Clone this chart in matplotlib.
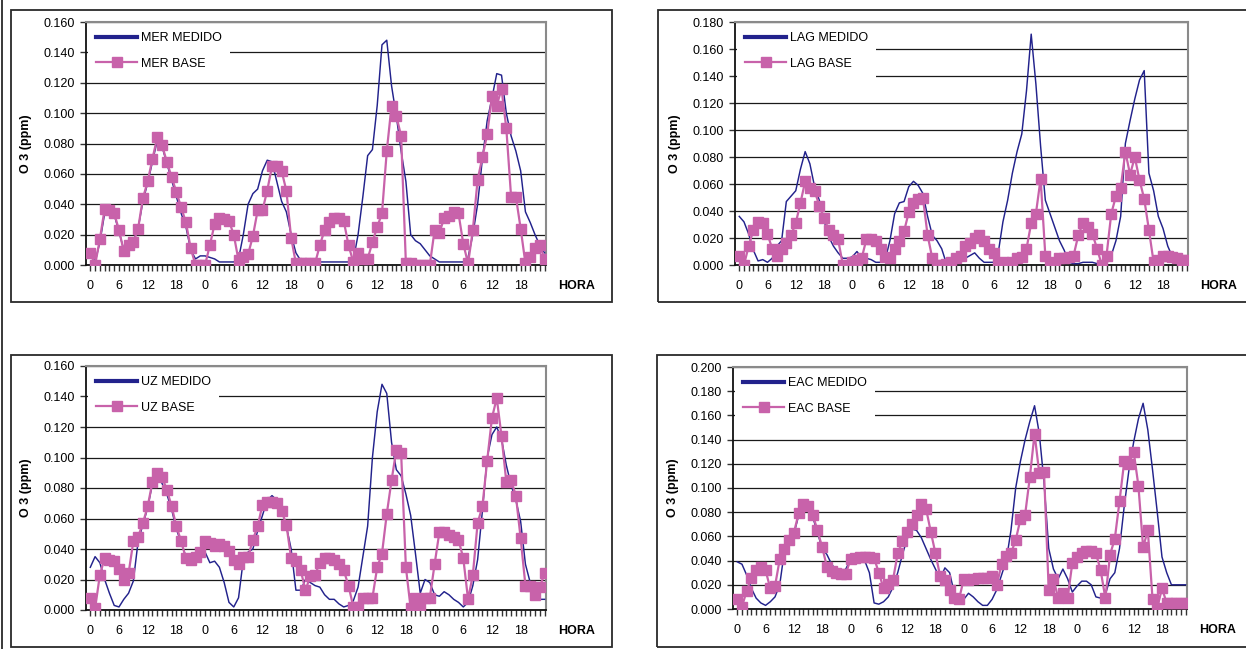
import matplotlib
matplotlib.use("Agg")
import matplotlib.pyplot as plt
from matplotlib.patches import Rectangle
from matplotlib.lines import Line2D

plt.rcParams['font.family'] = ['Liberation Sans', 'DejaVu Sans']

# ---------------- data ----------------
hours = list(range(96))
hour_labels = ["0", "6", "12", "18"] * 4
x_title = "HORA"
y_title = "O 3 (ppm)"

mer_medido = [0.008, 0.002, 0.015, 0.034, 0.035, 0.033, 0.022, 0.010, 0.013, 0.016, 0.024, 0.042,
              0.054, 0.068, 0.082, 0.078, 0.067, 0.056, 0.045, 0.034, 0.025, 0.010, 0.004, 0.006,
              0.006, 0.005, 0.004, 0.002, 0.002, 0.002, 0.002, 0.004, 0.020, 0.040, 0.047, 0.050,
              0.062, 0.069, 0.068, 0.055, 0.042, 0.035, 0.020, 0.008, 0.003, 0.002, 0.002, 0.002,
              0.002, 0.002, 0.002, 0.002, 0.002, 0.002, 0.002, 0.003, 0.020, 0.045, 0.072, 0.076,
              0.105, 0.145, 0.148, 0.118, 0.098, 0.075, 0.055, 0.020, 0.016, 0.014, 0.010, 0.006,
              0.004, 0.002, 0.002, 0.002, 0.002, 0.002, 0.002, 0.005, 0.020, 0.040, 0.070, 0.095,
              0.110, 0.126, 0.125, 0.100, 0.085, 0.075, 0.062, 0.035, 0.028, 0.020, 0.013, 0.008]
mer_base = [0.008, 0.000, 0.017, 0.037, 0.036, 0.034, 0.023, 0.009, 0.013, 0.015, 0.024, 0.044,
            0.055, 0.070, 0.084, 0.079, 0.068, 0.058, 0.048, 0.038, 0.028, 0.011, 0.000, 0.000,
            0.000, 0.013, 0.027, 0.031, 0.030, 0.029, 0.020, 0.003, 0.005, 0.007, 0.019, 0.036,
            0.036, 0.049, 0.065, 0.065, 0.062, 0.049, 0.018, 0.001, 0.001, 0.001, 0.001, 0.001,
            0.013, 0.023, 0.028, 0.031, 0.031, 0.029, 0.013, 0.002, 0.008, 0.004, 0.004, 0.015,
            0.025, 0.034, 0.075, 0.105, 0.098, 0.085, 0.001, 0.001, 0.000, 0.000, 0.000, 0.000,
            0.023, 0.021, 0.031, 0.032, 0.035, 0.034, 0.014, 0.001, 0.023, 0.056, 0.071, 0.086,
            0.111, 0.105, 0.116, 0.090, 0.045, 0.045, 0.024, 0.001, 0.005, 0.011, 0.013, 0.004]

lag_medido = [0.036, 0.032, 0.023, 0.011, 0.003, 0.004, 0.002, 0.005, 0.014, 0.018, 0.047, 0.051,
              0.055, 0.071, 0.084, 0.075, 0.058, 0.048, 0.033, 0.021, 0.014, 0.009, 0.005, 0.005,
              0.006, 0.010, 0.005, 0.005, 0.004, 0.002, 0.002, 0.004, 0.018, 0.038, 0.046, 0.047,
              0.058, 0.062, 0.059, 0.053, 0.036, 0.022, 0.018, 0.012, 0.001, 0.001, 0.001, 0.002,
              0.005, 0.007, 0.009, 0.005, 0.002, 0.002, 0.002, 0.009, 0.032, 0.048, 0.068, 0.084,
              0.097, 0.129, 0.171, 0.134, 0.088, 0.048, 0.038, 0.028, 0.018, 0.011, 0.002, 0.001,
              0.001, 0.002, 0.002, 0.002, 0.001, 0.000, 0.001, 0.007, 0.018, 0.036, 0.090, 0.107,
              0.123, 0.137, 0.144, 0.068, 0.055, 0.036, 0.027, 0.014, 0.006, 0.002, 0.001, 0.001]
lag_base = [0.007, 0.000, 0.014, 0.026, 0.032, 0.031, 0.023, 0.012, 0.007, 0.012, 0.016, 0.022,
            0.031, 0.046, 0.062, 0.057, 0.055, 0.044, 0.035, 0.026, 0.022, 0.019, 0.000, 0.000,
            0.002, 0.004, 0.005, 0.019, 0.019, 0.018, 0.012, 0.006, 0.005, 0.012, 0.018, 0.025,
            0.039, 0.046, 0.049, 0.050, 0.022, 0.005, 0.000, 0.000, 0.001, 0.002, 0.005, 0.007,
            0.014, 0.016, 0.020, 0.022, 0.018, 0.012, 0.009, 0.001, 0.002, 0.001, 0.002, 0.005,
            0.006, 0.012, 0.031, 0.038, 0.064, 0.007, 0.002, 0.001, 0.005, 0.005, 0.006, 0.007,
            0.022, 0.031, 0.028, 0.023, 0.012, 0.000, 0.007, 0.038, 0.051, 0.057, 0.084, 0.067,
            0.080, 0.063, 0.049, 0.026, 0.002, 0.004, 0.007, 0.007, 0.006, 0.005, 0.004, 0.004]

uz_medido = [0.028, 0.035, 0.031, 0.020, 0.011, 0.003, 0.002, 0.007, 0.011, 0.019, 0.045, 0.056,
             0.067, 0.083, 0.088, 0.083, 0.076, 0.066, 0.053, 0.044, 0.035, 0.034, 0.035, 0.038,
             0.038, 0.031, 0.032, 0.028, 0.018, 0.005, 0.002, 0.008, 0.033, 0.038, 0.040, 0.052,
             0.062, 0.072, 0.075, 0.072, 0.066, 0.055, 0.040, 0.013, 0.013, 0.020, 0.018, 0.016,
             0.015, 0.010, 0.007, 0.007, 0.004, 0.002, 0.003, 0.006, 0.015, 0.035, 0.055, 0.100,
             0.130, 0.148, 0.142, 0.110, 0.092, 0.088, 0.076, 0.062, 0.037, 0.011, 0.020, 0.018,
             0.010, 0.009, 0.012, 0.010, 0.007, 0.005, 0.002, 0.005, 0.016, 0.033, 0.065, 0.100,
             0.115, 0.120, 0.112, 0.095, 0.082, 0.072, 0.058, 0.030, 0.018, 0.010, 0.007, 0.007]
uz_base = [0.008, 0.001, 0.023, 0.034, 0.033, 0.032, 0.027, 0.020, 0.024, 0.045, 0.048, 0.057,
           0.068, 0.084, 0.090, 0.087, 0.079, 0.068, 0.055, 0.045, 0.034, 0.033, 0.035, 0.038,
           0.045, 0.044, 0.042, 0.043, 0.042, 0.039, 0.033, 0.030, 0.035, 0.035, 0.046, 0.055,
           0.069, 0.071, 0.071, 0.070, 0.065, 0.056, 0.034, 0.032, 0.026, 0.013, 0.022, 0.023,
           0.031, 0.034, 0.034, 0.033, 0.030, 0.026, 0.016, 0.002, 0.002, 0.008, 0.008, 0.008,
           0.028, 0.037, 0.063, 0.085, 0.105, 0.103, 0.028, 0.001, 0.008, 0.002, 0.008, 0.008,
           0.030, 0.051, 0.051, 0.049, 0.048, 0.046, 0.034, 0.007, 0.023, 0.057, 0.068, 0.098,
           0.126, 0.139, 0.114, 0.084, 0.085, 0.075, 0.047, 0.016, 0.016, 0.010, 0.015, 0.024]

eac_medido = [0.039, 0.037, 0.028, 0.017, 0.009, 0.005, 0.003, 0.006, 0.010, 0.020, 0.048, 0.055,
              0.062, 0.077, 0.085, 0.083, 0.076, 0.063, 0.050, 0.045, 0.037, 0.032, 0.030, 0.033,
              0.041, 0.042, 0.041, 0.040, 0.030, 0.005, 0.004, 0.006, 0.010, 0.018, 0.030, 0.045,
              0.058, 0.066, 0.065, 0.059, 0.050, 0.041, 0.033, 0.025, 0.034, 0.030, 0.013, 0.007,
              0.008, 0.013, 0.010, 0.006, 0.003, 0.003, 0.008, 0.016, 0.028, 0.040, 0.065, 0.100,
              0.122, 0.140, 0.155, 0.168, 0.145, 0.105, 0.050, 0.033, 0.025, 0.033, 0.025, 0.014,
              0.019, 0.023, 0.023, 0.020, 0.010, 0.009, 0.012, 0.025, 0.030, 0.050, 0.085, 0.115,
              0.138, 0.157, 0.170, 0.148, 0.115, 0.080, 0.043, 0.030, 0.020, 0.020, 0.020, 0.020]
eac_base = [0.008, 0.002, 0.015, 0.026, 0.032, 0.035, 0.032, 0.017, 0.019, 0.041, 0.050, 0.057,
            0.063, 0.079, 0.087, 0.085, 0.078, 0.065, 0.051, 0.035, 0.031, 0.030, 0.029, 0.029,
            0.041, 0.042, 0.043, 0.043, 0.043, 0.042, 0.030, 0.017, 0.021, 0.024, 0.046, 0.056,
            0.064, 0.070, 0.078, 0.087, 0.083, 0.064, 0.046, 0.027, 0.024, 0.016, 0.009, 0.008,
            0.025, 0.024, 0.025, 0.026, 0.026, 0.026, 0.027, 0.020, 0.037, 0.044, 0.046, 0.057,
            0.074, 0.078, 0.109, 0.145, 0.112, 0.113, 0.016, 0.025, 0.009, 0.013, 0.009, 0.038,
            0.043, 0.046, 0.048, 0.048, 0.046, 0.032, 0.009, 0.045, 0.058, 0.089, 0.122, 0.120,
            0.130, 0.102, 0.051, 0.065, 0.008, 0.001, 0.017, 0.005, 0.005, 0.005, 0.005, 0.005]

panels = [
    ("MER", mer_medido, mer_base, 0.160),
    ("LAG", lag_medido, lag_base, 0.180),
    ("UZ", uz_medido, uz_base, 0.160),
    ("EAC", eac_medido, eac_base, 0.200),
]

# ---------------- layout (pixels) ----------------
W, H = 1246, 649
fig = plt.figure(figsize=(W / 100, H / 100), dpi=100)
fig.patch.set_facecolor("white")

def px_rect(x0, y0, x1, y1):
    return [x0 / W, 1 - y1 / H, (x1 - x0) / W, (y1 - y0) / H]

axes_px = [(86, 22, 546, 265), (735, 22, 1188, 265), (86, 366, 546, 610), (733, 367, 1187, 609)]
boxes_px = [(11, 10, 612, 302), (658, 10, 1270, 302), (11, 355, 612, 647), (657, 355, 1270, 647)]

BLUE = "#22228c"
PINK = "#c862aa"

for (name, med, base, ymax), apx, bpx in zip(panels, axes_px, boxes_px):
    bx0, by0, bx1, by1 = bpx
    fig.add_artist(Rectangle((bx0 / W, 1 - by1 / H), (bx1 - bx0) / W, (by1 - by0) / H,
                             transform=fig.transFigure, fill=False, edgecolor="#2a2a2a", lw=1.3))
    ax = fig.add_axes(px_rect(*apx))
    ax.set_facecolor("white")
    ax.plot(hours, med, color=BLUE, lw=1.05, label=f"{name} MEDIDO", zorder=3)
    ax.plot(hours, base, color=PINK, lw=1.6, marker="s", markersize=6.5,
            markerfacecolor=PINK, markeredgecolor=PINK, label=f"{name} BASE", zorder=4)
    ax.set_ylim(0, ymax)
    ax.set_xlim(-0.9, 95.3)
    yt = [round(i * 0.02, 3) for i in range(int(round(ymax / 0.02)) + 1)]
    ax.set_yticks(yt)
    ax.set_yticklabels([f"{v:.3f}" for v in yt], fontsize=9)
    ax.set_xticks(hours)
    ax.set_xticklabels([hour_labels[i // 6] if i % 6 == 0 else "" for i in hours], fontsize=9)
    ax.tick_params(axis="x", direction="out", length=4, width=1, pad=7, color="#333333")
    ax.tick_params(axis="y", direction="out", length=4, width=1, pad=4, color="#333333")
    ax.yaxis.grid(True, color="#1a1a1a", lw=0.9)
    ax.set_axisbelow(True)
    for s in ("left", "bottom"):
        ax.spines[s].set_color("#111111")
        ax.spines[s].set_linewidth(1.3)
    for s in ("top", "right"):
        ax.spines[s].set_color("#8a8a8a")
        ax.spines[s].set_linewidth(1.5)
    ax.set_ylabel(y_title, fontsize=9, fontweight="bold", labelpad=8)
    ax.annotate(x_title, xy=(1, 0), xycoords="axes fraction", xytext=(22, -15),
                textcoords="offset points", ha="center", va="center",
                fontsize=9, fontweight="bold")
    leg = ax.legend(loc="upper left", bbox_to_anchor=(0, 1), borderaxespad=0.15,
                    frameon=True, fancybox=False, facecolor="white", edgecolor="none",
                    framealpha=1, fontsize=9, handlelength=3.3, handletextpad=0.3,
                    labelspacing=1.1, borderpad=0.65)
    leg.set_zorder(5)
    for h in leg.legend_handles:
        if isinstance(h, Line2D) and h.get_marker() in (None, "None", ""):
            h.set_linewidth(3)

fig.add_artist(Line2D([2 / W, 2 / W], [0, 1], transform=fig.transFigure, color="#2a2a2a", lw=1.3))

fig.savefig("out.png", dpi=100)
